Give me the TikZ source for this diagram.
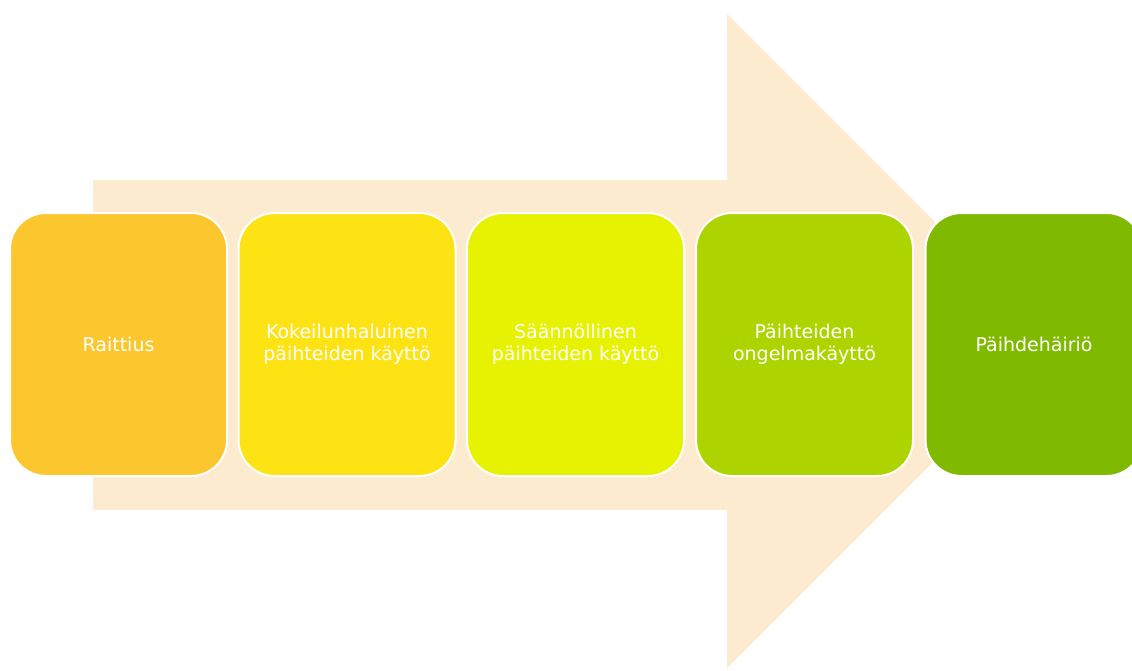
\documentclass[tikz,border=0pt]{standalone}
\usepackage{fontspec}
\setmainfont{DejaVu Sans}
\definecolor{arrowc}{HTML}{FDEBD0}
\definecolor{cA}{HTML}{FCC72E}
\definecolor{cB}{HTML}{FDE314}
\definecolor{cC}{HTML}{E7F200}
\definecolor{cD}{HTML}{AED400}
\definecolor{cE}{HTML}{7FBA00}
\tikzset{
  stagebox/.style={draw=white, line width=2pt, rounded corners=36pt,
    minimum width=217pt, minimum height=263pt, align=center, text=white,
    inner sep=2pt, font=\fontsize{19}{21.7}\selectfont}
}
\begin{document}
\begin{tikzpicture}[x=1pt,y=-1pt]
\useasboundingbox (0,0) rectangle (1132,670);
\clip (0,0) rectangle (1132,670);
\fill[white] (0,0) rectangle (1132,670);
\fill[arrowc] (93,180) -- (727,180) -- (727,14) -- (1054,341) -- (727,668) -- (727,510) -- (93,510) -- cycle;
\node[stagebox, fill=cA] (b1) at (118.5,344.5) {Raittius};
\node[stagebox, fill=cB] (b2) at (347,344.5) {Kokeilunhaluinen\\päihteiden käyttö};
\node[stagebox, fill=cC] (b3) at (575.5,344.5) {Säännöllinen\\päihteiden käyttö};
\node[stagebox, fill=cD] (b4) at (804.5,344.5) {Päihteiden\\ongelmakäyttö};
\node[stagebox, fill=cE] (b5) at (1034,344.5) {Päihdehäiriö};
\end{tikzpicture}
\end{document}
